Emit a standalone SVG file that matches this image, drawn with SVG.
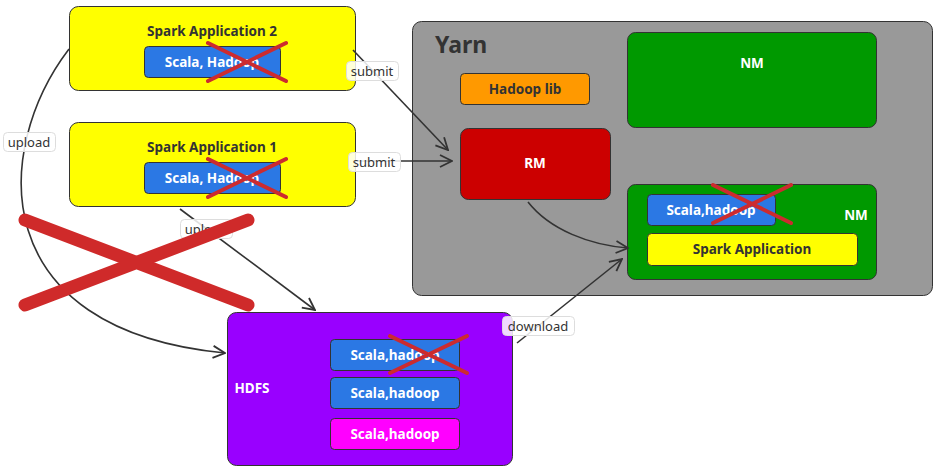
<svg xmlns="http://www.w3.org/2000/svg" width="935" height="470" viewBox="0 0 935 470">
<defs>
<style>
.box{stroke:#333;stroke-width:1}
.t{font-family:"Noto Sans","Liberation Sans",sans-serif;font-weight:bold;font-size:13.5px;text-anchor:middle;dominant-baseline:central}
.w{fill:#fff}
.d{fill:#333}
.conn{fill:none;stroke:#333;stroke-width:1.6}
.lbl rect{fill:#fff;fill-opacity:0.85;stroke:#ddd;stroke-width:1}
.lbl text{font-family:"Noto Sans","Liberation Sans",sans-serif;font-size:13px;fill:#333;text-anchor:middle;dominant-baseline:central}
.x{stroke:#cc2b2f;stroke-width:4;stroke-linecap:round}
.bigx{stroke:#cf2a2a;stroke-width:13;stroke-linecap:round}
</style>
<marker id="arr" viewBox="0 0 14 14" refX="13" refY="7" markerWidth="14" markerHeight="14" markerUnits="userSpaceOnUse" orient="auto">
<path d="M1,1 L13,7 L1,13" fill="none" stroke="#333" stroke-width="1.8"/>
</marker>
</defs>
<rect width="935" height="470" fill="#fff"/>

<g id="yarn">
<rect class="box" x="412.5" y="21.5" width="520" height="274" rx="9" fill="#999"/>
<text x="435" y="44" style="font-family:'Noto Sans','Liberation Sans',sans-serif;font-weight:bold;font-size:23px;fill:#333;dominant-baseline:central">Yarn</text>
</g>
<g id="hadooplib">
<rect class="box" x="460.5" y="73.5" width="129" height="31" rx="4" fill="#f90"/>
<text class="t d" x="525" y="89">Hadoop lib</text>
</g>
<g id="rm">
<rect class="box" x="460.5" y="128.5" width="150" height="71" rx="8" fill="#c00"/>
<text class="t w" x="535" y="163">RM</text>
</g>
<g id="nm1">
<rect class="box" x="627.5" y="32.5" width="249" height="95" rx="8" fill="#090"/>
<text class="t w" x="752" y="63">NM</text>
</g>
<g id="nm2">
<rect class="box" x="627.5" y="184.5" width="249" height="95" rx="8" fill="#090"/>
<text class="t w" x="856" y="215">NM</text>
<rect class="box" x="647.5" y="194.5" width="128" height="31" rx="4" fill="#2b78e4"/>
<text class="t w" x="711" y="210">Scala,hadoop</text>
<rect class="box" x="647.5" y="233.5" width="210" height="32" rx="4" fill="#ff0"/>
<text class="t d" x="752" y="249">Spark Application</text>
</g>

<g id="app2">
<rect class="box" x="69.5" y="6.5" width="286" height="84" rx="9" fill="#ff0"/>
<text class="t d" x="212" y="31">Spark Application 2</text>
<rect class="box" x="144.5" y="46.5" width="136" height="31" rx="4" fill="#2b78e4"/>
<text class="t w" x="212" y="62">Scala, Hadoop</text>
</g>
<g id="app1">
<rect class="box" x="69.5" y="122.5" width="286" height="84" rx="9" fill="#ff0"/>
<text class="t d" x="212" y="147">Spark Application 1</text>
<rect class="box" x="144.5" y="162.5" width="136" height="31" rx="4" fill="#2b78e4"/>
<text class="t w" x="212" y="178">Scala, Hadoop</text>
</g>

<g id="hdfs">
<rect class="box" x="227.5" y="312.5" width="285" height="153" rx="9" fill="#90f"/>
<text class="t w" x="252" y="388">HDFS</text>
<rect class="box" x="330.5" y="339.5" width="129" height="31" rx="4" fill="#2b78e4"/>
<text class="t w" x="395" y="355">Scala,hadoop</text>
<rect class="box" x="330.5" y="377.5" width="129" height="31" rx="4" fill="#2b78e4"/>
<text class="t w" x="395" y="393">Scala,hadoop</text>
<rect class="box" x="330.5" y="418.5" width="129" height="31" rx="4" fill="#f0f"/>
<text class="t w" x="395" y="434">Scala,hadoop</text>
</g>

<g id="connectors">
<path class="conn" d="M353,50 L448,150" marker-end="url(#arr)"/>
<path class="conn" d="M355,161 L452,161" marker-end="url(#arr)"/>
<path class="conn" d="M69,49 C-8,150 -15,330 225,353" marker-end="url(#arr)"/>
<path class="conn" d="M180,209 L315,310" marker-end="url(#arr)"/>
<path class="conn" d="M528,202 C550,230 590,245 628,248" marker-end="url(#arr)"/>
<path class="conn" d="M517,343 L622,259" marker-end="url(#arr)"/>
<g class="lbl"><rect x="346.5" y="61.5" width="52" height="19" rx="4"/><text x="372" y="71">submit</text></g>
<g class="lbl"><rect x="348.5" y="152.5" width="52" height="19" rx="4"/><text x="374" y="162">submit</text></g>
<g class="lbl"><rect x="3.5" y="132.5" width="52" height="19" rx="4"/><text x="29" y="142">upload</text></g>
<g class="lbl"><rect x="180.5" y="219.5" width="52" height="19" rx="4"/><text x="206" y="229">upload</text></g>
<g class="lbl"><rect x="502.5" y="316.5" width="72" height="19" rx="4"/><text x="538" y="326">download</text></g>
</g>

<g id="crosses">
<path class="x" d="M208,43 L286,81 M208,81 L286,43"/>
<path class="x" d="M208,159 L286,197 M208,197 L286,159"/>
<path class="x" d="M713,185 L791,223 M713,223 L791,185"/>
<path class="x" d="M390,336 L467,373 M390,373 L467,336"/>
<path class="bigx" d="M25,220 L248,305 M25,305 L248,220"/>
</g>
</svg>
